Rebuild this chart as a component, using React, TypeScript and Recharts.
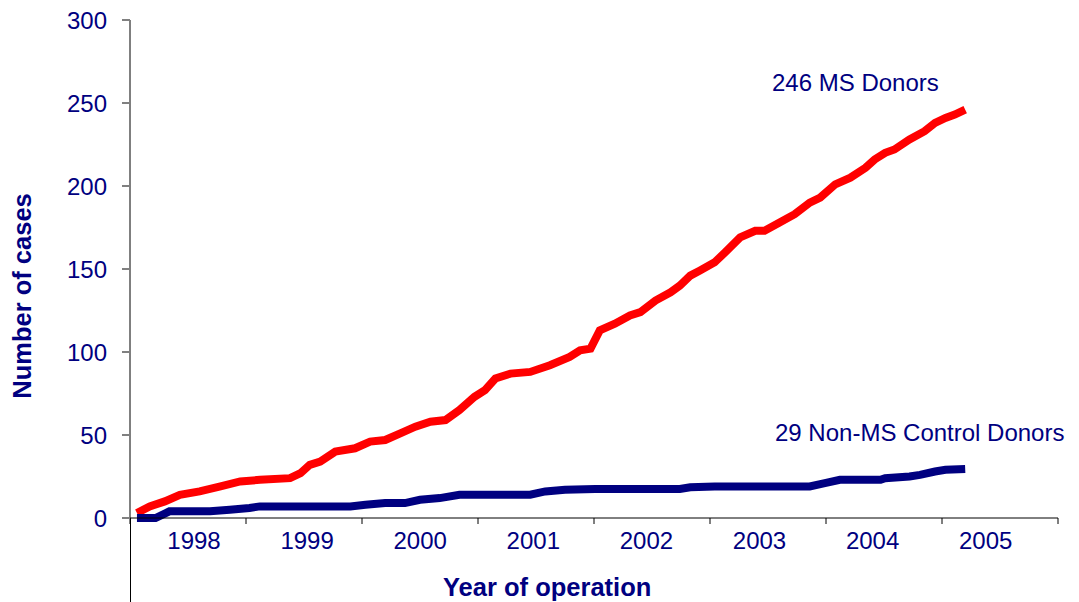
import { Line, LineChart, XAxis, YAxis } from "recharts";

// year edges (tick marks); each label sits between two edges
const yearEdges = [1998, 1999, 2000, 2001, 2002, 2003, 2004, 2005, 2006];
const yearLabels = ["1998", "1999", "2000", "2001", "2002", "2003", "2004", "2005"];
const caseTicks = [0, 50, 100, 150, 200, 250, 300];

// cumulative MS donors
const msTime = [
	1998.06, 1998.17, 1998.3, 1998.43, 1998.6, 1998.78, 1998.95, 1999.12, 1999.38,
	1999.47, 1999.55, 1999.64, 1999.77, 1999.94, 2000.07, 2000.2, 2000.33, 2000.46,
	2000.59, 2000.72, 2000.84, 2000.97, 2001.06, 2001.15, 2001.28, 2001.45, 2001.62,
	2001.79, 2001.88, 2001.97, 2002.05, 2002.18, 2002.31, 2002.4, 2002.53, 2002.66,
	2002.74, 2002.83, 2002.91, 2003.04, 2003.13, 2003.26, 2003.39, 2003.47, 2003.6,
	2003.73, 2003.86, 2003.95, 2004.08, 2004.21, 2004.34, 2004.42, 2004.51, 2004.59,
	2004.72, 2004.85, 2004.94, 2005.03, 2005.11, 2005.2,
];
const msCases = [
	3, 7, 10, 14, 16, 19, 22, 23, 24, 27, 32, 34, 40, 42, 46, 47, 51, 55, 58, 59, 65,
	73, 77, 84, 87, 88, 92, 97, 101, 102, 113, 117, 122, 124, 131, 136, 140, 146, 149,
	154, 160, 169, 173, 173, 178, 183, 190, 193, 201, 205, 211, 216, 220, 222, 228,
	233, 238, 241, 243, 246,
];

// cumulative non-MS control donors
const ctrlTime = [
	1998.06, 1998.22, 1998.34, 1998.69, 1998.86, 1999.03, 1999.12, 1999.9, 2000.03,
	2000.2, 2000.37, 2000.5, 2000.67, 2000.84, 2001.45, 2001.58, 2001.75, 2002.01,
	2002.74, 2002.83, 2003.04, 2003.86, 2003.99, 2004.12, 2004.47, 2004.51, 2004.72,
	2004.81, 2004.94, 2005.03, 2005.2,
];
const ctrlCases = [
	0, 0, 4, 4, 5, 6, 7, 7, 8, 9, 9, 11, 12, 14, 14, 16, 17, 17.5, 17.5, 18.5, 19, 19,
	21, 23, 23, 24, 25, 26, 28, 29, 29.5,
];

const msData = msTime.map((t, i) => ({ t, v: msCases[i] }));
const ctrlData = ctrlTime.map((t, i) => ({ t, v: ctrlCases[i] }));

const navy = "#000080";
const font = "'Liberation Sans', Arial, sans-serif";
const tickText = { fill: navy, fontSize: 24, fontFamily: font };

// label sits to the right of its edge tick; the original packs labels
// slightly tighter than the ticks, so the offset shrinks a little each year
const YearTick = (props: any) => {
	const { x, y, index } = props;
	const label = yearLabels[index];
	if (!label) return null;
	return (
		<text
			x={x + 64 - 2.9 * index}
			y={y + 23}
			textAnchor="middle"
			{...tickText}
		>
			{label}
		</text>
	);
};

const note = (left: number, top: number, bold?: boolean) =>
	({
		position: "absolute",
		left,
		top,
		color: navy,
		fontFamily: font,
		fontSize: bold ? 25.5 : 24,
		fontWeight: bold ? "bold" : "normal",
		whiteSpace: "nowrap",
		lineHeight: 1,
	}) as const;

export default function App() {
	return (
		<div
			style={{
				position: "absolute",
				left: 0,
				top: 0,
				width: 1079,
				height: 602,
				background: "#fff",
				overflow: "hidden",
			}}
		>
			<LineChart
				width={1079}
				height={602}
				margin={{ top: 20, right: 21, bottom: 0, left: 0 }}
			>
				<XAxis
					type="number"
					dataKey="t"
					domain={[1998, 2006]}
					ticks={yearEdges}
					tick={<YearTick />}
					tickSize={6}
					tickLine={{ stroke: "#000" }}
					axisLine={{ stroke: "#000" }}
					height={84}
				/>
				<YAxis
					type="number"
					domain={[0, 300]}
					ticks={caseTicks}
					width={130}
					tickSize={8}
					tickMargin={15}
					tickLine={{ stroke: "#808080", strokeWidth: 2 }}
					axisLine={{ stroke: "#000" }}
					tick={tickText}
				/>
				<Line
					data={msData}
					dataKey="v"
					type="linear"
					stroke="#ff0000"
					strokeWidth={8}
					dot={false}
					isAnimationActive={false}
				/>
				<Line
					data={ctrlData}
					dataKey="v"
					type="linear"
					stroke={navy}
					strokeWidth={8}
					dot={false}
					isAnimationActive={false}
				/>
			</LineChart>
			{/* y axis runs on below the category axis */}
			<div
				style={{
					position: "absolute",
					left: 130,
					top: 518,
					width: 1,
					height: 84,
					background: "#000",
				}}
			/>
			<div style={note(772, 71)}>246 MS Donors</div>
			<div style={note(775, 421)}>29 Non-MS Control Donors</div>
			<div style={note(443, 575, true)}>Year of operation</div>
			<div
				style={{
					...note(23, 296, true),
					transform: "translate(-50%, -50%) rotate(-90deg)",
				}}
			>
				Number of cases
			</div>
		</div>
	);
}
